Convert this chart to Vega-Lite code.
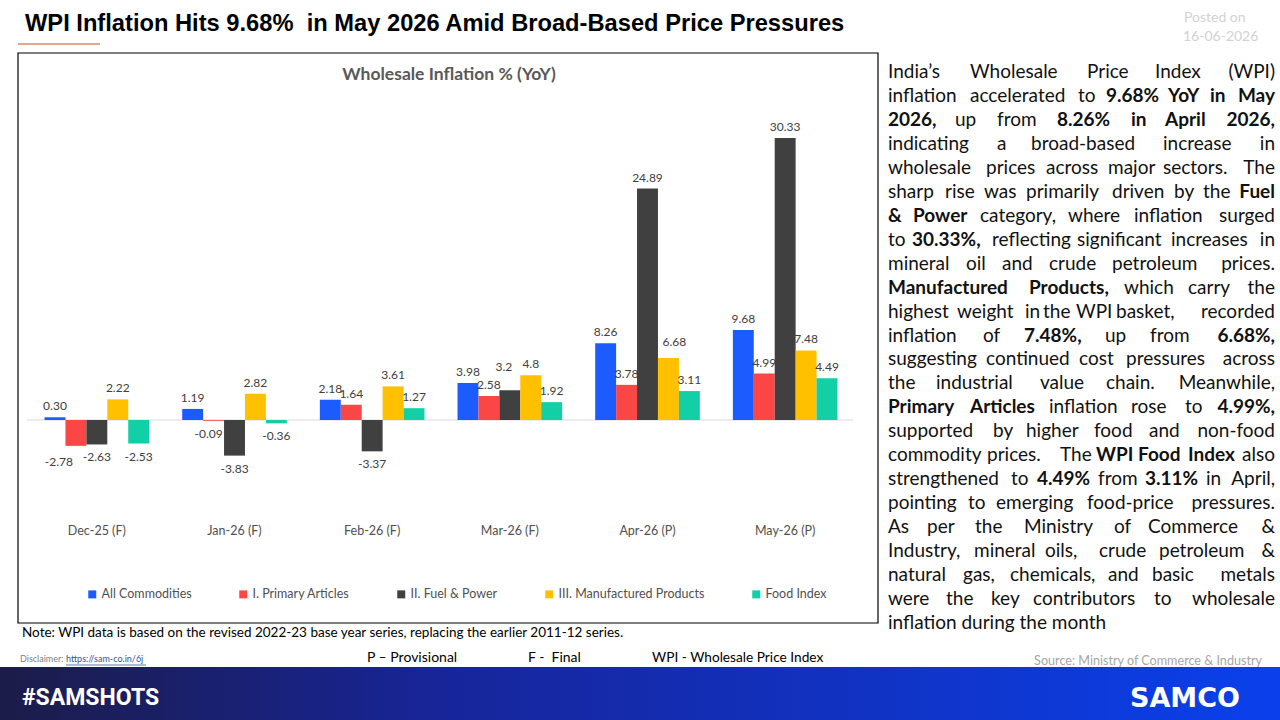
{
  "$schema": "https://vega.github.io/schema/vega-lite/v6.json",
  "width": 1280,
  "height": 720,
  "autosize": {"type": "none"},
  "padding": 0,
  "background": "white",
  "config": {"view": {"stroke": null}, "font": "Lato"},
  "datasets": {
    "wpi": [
      {"month": "Dec-25 (F)", "series": "All Commodities", "value": 0.30, "label": "0.30"},
      {"month": "Dec-25 (F)", "series": "I. Primary Articles", "value": -2.78, "label": "-2.78"},
      {"month": "Dec-25 (F)", "series": "II. Fuel & Power", "value": -2.63, "label": "-2.63"},
      {"month": "Dec-25 (F)", "series": "III. Manufactured Products", "value": 2.22, "label": "2.22"},
      {"month": "Dec-25 (F)", "series": "Food Index", "value": -2.53, "label": "-2.53"},
      {"month": "Jan-26 (F)", "series": "All Commodities", "value": 1.19, "label": "1.19"},
      {"month": "Jan-26 (F)", "series": "I. Primary Articles", "value": -0.09, "label": "-0.09"},
      {"month": "Jan-26 (F)", "series": "II. Fuel & Power", "value": -3.83, "label": "-3.83"},
      {"month": "Jan-26 (F)", "series": "III. Manufactured Products", "value": 2.82, "label": "2.82"},
      {"month": "Jan-26 (F)", "series": "Food Index", "value": -0.36, "label": "-0.36"},
      {"month": "Feb-26 (F)", "series": "All Commodities", "value": 2.18, "label": "2.18"},
      {"month": "Feb-26 (F)", "series": "I. Primary Articles", "value": 1.64, "label": "1.64"},
      {"month": "Feb-26 (F)", "series": "II. Fuel & Power", "value": -3.37, "label": "-3.37"},
      {"month": "Feb-26 (F)", "series": "III. Manufactured Products", "value": 3.61, "label": "3.61"},
      {"month": "Feb-26 (F)", "series": "Food Index", "value": 1.27, "label": "1.27"},
      {"month": "Mar-26 (F)", "series": "All Commodities", "value": 3.98, "label": "3.98"},
      {"month": "Mar-26 (F)", "series": "I. Primary Articles", "value": 2.58, "label": "2.58"},
      {"month": "Mar-26 (F)", "series": "II. Fuel & Power", "value": 3.2, "label": "3.2"},
      {"month": "Mar-26 (F)", "series": "III. Manufactured Products", "value": 4.8, "label": "4.8"},
      {"month": "Mar-26 (F)", "series": "Food Index", "value": 1.92, "label": "1.92"},
      {"month": "Apr-26 (P)", "series": "All Commodities", "value": 8.26, "label": "8.26"},
      {"month": "Apr-26 (P)", "series": "I. Primary Articles", "value": 3.78, "label": "3.78"},
      {"month": "Apr-26 (P)", "series": "II. Fuel & Power", "value": 24.89, "label": "24.89"},
      {"month": "Apr-26 (P)", "series": "III. Manufactured Products", "value": 6.68, "label": "6.68"},
      {"month": "Apr-26 (P)", "series": "Food Index", "value": 3.11, "label": "3.11"},
      {"month": "May-26 (P)", "series": "All Commodities", "value": 9.68, "label": "9.68"},
      {"month": "May-26 (P)", "series": "I. Primary Articles", "value": 4.99, "label": "4.99"},
      {"month": "May-26 (P)", "series": "II. Fuel & Power", "value": 30.33, "label": "30.33"},
      {"month": "May-26 (P)", "series": "III. Manufactured Products", "value": 7.48, "label": "7.48"},
      {"month": "May-26 (P)", "series": "Food Index", "value": 4.49, "label": "4.49"}
    ],
    "plainWords": [
      {"line": 1, "at": 0, "word": "India’s"}, {"line": 1, "at": 82, "word": "Wholesale"}, {"line": 1, "at": 199, "word": "Price"}, {"line": 1, "at": 267, "word": "Index"},
      {"line": 2, "at": 0, "word": "inflation"}, {"line": 2, "at": 82, "word": "accelerated"}, {"line": 2, "at": 190, "word": "to"},
      {"line": 3, "at": 67, "word": "up"}, {"line": 3, "at": 109, "word": "from"},
      {"line": 4, "at": 0, "word": "indicating"}, {"line": 4, "at": 109, "word": "a"}, {"line": 4, "at": 143, "word": "broad-based"}, {"line": 4, "at": 275, "word": "increase"},
      {"line": 5, "at": 0, "word": "wholesale"}, {"line": 5, "at": 98, "word": "prices"}, {"line": 5, "at": 158, "word": "across"}, {"line": 5, "at": 220, "word": "major"}, {"line": 5, "at": 275, "word": "sectors."},
      {"line": 6, "at": 0, "word": "sharp"}, {"line": 6, "at": 57, "word": "rise"}, {"line": 6, "at": 96, "word": "was"}, {"line": 6, "at": 138, "word": "primarily"}, {"line": 6, "at": 224, "word": "driven"}, {"line": 6, "at": 286, "word": "by"}, {"line": 6, "at": 315, "word": "the"},
      {"line": 7, "at": 92, "word": "category,"}, {"line": 7, "at": 180, "word": "where"}, {"line": 7, "at": 246, "word": "inflation"},
      {"line": 8, "at": 0, "word": "to"}, {"line": 8, "at": 104, "word": "reflecting"}, {"line": 8, "at": 189, "word": "significant"}, {"line": 8, "at": 283, "word": "increases"},
      {"line": 9, "at": 0, "word": "mineral"}, {"line": 9, "at": 78, "word": "oil"}, {"line": 9, "at": 114, "word": "and"}, {"line": 9, "at": 161, "word": "crude"}, {"line": 9, "at": 224, "word": "petroleum"},
      {"line": 10, "at": 236, "word": "which"}, {"line": 10, "at": 300, "word": "carry"},
      {"line": 11, "at": 0, "word": "highest"}, {"line": 11, "at": 69, "word": "weight"}, {"line": 11, "at": 137, "word": "in"}, {"line": 11, "at": 155, "word": "the"}, {"line": 11, "at": 188, "word": "WPI"}, {"line": 11, "at": 228, "word": "basket,"},
      {"line": 12, "at": 0, "word": "inflation"}, {"line": 12, "at": 95, "word": "of"}, {"line": 12, "at": 217, "word": "up"}, {"line": 12, "at": 262, "word": "from"},
      {"line": 13, "at": 0, "word": "suggesting"}, {"line": 13, "at": 98, "word": "continued"}, {"line": 13, "at": 191, "word": "cost"}, {"line": 13, "at": 238, "word": "pressures"},
      {"line": 14, "at": 0, "word": "the"}, {"line": 14, "at": 48, "word": "industrial"}, {"line": 14, "at": 152, "word": "value"}, {"line": 14, "at": 218, "word": "chain."},
      {"line": 15, "at": 161, "word": "inflation"}, {"line": 15, "at": 243, "word": "rose"}, {"line": 15, "at": 297, "word": "to"},
      {"line": 16, "at": 0, "word": "supported"}, {"line": 16, "at": 105, "word": "by"}, {"line": 16, "at": 138, "word": "higher"}, {"line": 16, "at": 206, "word": "food"}, {"line": 16, "at": 261, "word": "and"},
      {"line": 17, "at": 0, "word": "commodity"}, {"line": 17, "at": 99, "word": "prices."}, {"line": 17, "at": 172, "word": "The"},
      {"line": 18, "at": 0, "word": "strengthened"}, {"line": 18, "at": 123, "word": "to"}, {"line": 18, "at": 210, "word": "from"}, {"line": 18, "at": 318, "word": "in"},
      {"line": 19, "at": 0, "word": "pointing"}, {"line": 19, "at": 80, "word": "to"}, {"line": 19, "at": 108, "word": "emerging"}, {"line": 19, "at": 199, "word": "food-price"},
      {"line": 20, "at": 0, "word": "As"}, {"line": 20, "at": 39, "word": "per"}, {"line": 20, "at": 87, "word": "the"}, {"line": 20, "at": 136, "word": "Ministry"}, {"line": 20, "at": 226, "word": "of"}, {"line": 20, "at": 260, "word": "Commerce"},
      {"line": 21, "at": 0, "word": "Industry,"}, {"line": 21, "at": 86, "word": "mineral"}, {"line": 21, "at": 157, "word": "oils,"}, {"line": 21, "at": 211, "word": "crude"}, {"line": 21, "at": 271, "word": "petroleum"},
      {"line": 22, "at": 0, "word": "natural"}, {"line": 22, "at": 75, "word": "gas,"}, {"line": 22, "at": 122, "word": "chemicals,"}, {"line": 22, "at": 220, "word": "and"}, {"line": 22, "at": 264, "word": "basic"},
      {"line": 23, "at": 0, "word": "were"}, {"line": 23, "at": 58, "word": "the"}, {"line": 23, "at": 103, "word": "key"}, {"line": 23, "at": 145, "word": "contributors"}, {"line": 23, "at": 266, "word": "to"},
      {"line": 24, "at": 0, "word": "inflation during the month"}
    ],
    "boldWords": [
      {"line": 2, "at": 218, "word": "9.68%"}, {"line": 2, "at": 280, "word": "YoY"}, {"line": 2, "at": 322, "word": "in"},
      {"line": 3, "at": 0, "word": "2026,"}, {"line": 3, "at": 169, "word": "8.26%"}, {"line": 3, "at": 243, "word": "in"}, {"line": 3, "at": 277, "word": "April"},
      {"line": 7, "at": 0, "word": "&"}, {"line": 7, "at": 25, "word": "Power"},
      {"line": 8, "at": 24, "word": "30.33%,"},
      {"line": 10, "at": 0, "word": "Manufactured"}, {"line": 10, "at": 141, "word": "Products,"},
      {"line": 12, "at": 136, "word": "7.48%,"},
      {"line": 15, "at": 0, "word": "Primary"}, {"line": 15, "at": 82, "word": "Articles"},
      {"line": 17, "at": 208, "word": "WPI"}, {"line": 17, "at": 250, "word": "Food"}, {"line": 17, "at": 300, "word": "Index"},
      {"line": 18, "at": 149, "word": "4.49%"}, {"line": 18, "at": 257, "word": "3.11%"}
    ],
    "plainEnds": [
      {"line": 1, "word": "(WPI)"}, {"line": 4, "word": "in"}, {"line": 5, "word": "The"}, {"line": 7, "word": "surged"},
      {"line": 8, "word": "in"}, {"line": 9, "word": "prices."}, {"line": 10, "word": "the"}, {"line": 11, "word": "recorded"},
      {"line": 13, "word": "across"}, {"line": 14, "word": "Meanwhile,"}, {"line": 16, "word": "non-food"}, {"line": 17, "word": "also"},
      {"line": 18, "word": "April,"}, {"line": 19, "word": "pressures."}, {"line": 20, "word": "&"}, {"line": 21, "word": "&"},
      {"line": 22, "word": "metals"}, {"line": 23, "word": "wholesale"}
    ],
    "boldEnds": [
      {"line": 2, "word": "May"}, {"line": 3, "word": "2026,"}, {"line": 6, "word": "Fuel"}, {"line": 12, "word": "6.68%,"}, {"line": 15, "word": "4.99%,"}
    ]
  },
  "layer": [
    {
      "data": {"values": [{}]},
      "mark": {"type": "text", "x": 25, "y": 31, "align": "left", "baseline": "alphabetic", "text": "WPI Inflation Hits 9.68%\u00a0 in May 2026 Amid Broad-Based Price Pressures", "font": "Liberation Sans", "fontWeight": "bold", "fontSize": 23.7, "color": "#000000"},
      "encoding": {}
    },
    {
      "data": {"values": [{}]},
      "mark": {"type": "rule", "color": "#d98a66", "strokeWidth": 1.5},
      "encoding": {"x": {"value": 18}, "x2": {"value": 100}, "y": {"value": 44}}
    },
    {
      "data": {"values": [{}]},
      "mark": {"type": "text", "x": 1184, "y": 18, "align": "left", "baseline": "middle", "text": "Posted on", "font": "Lato", "fontSize": 14, "color": "#d2d2d2"},
      "encoding": {}
    },
    {
      "data": {"values": [{}]},
      "mark": {"type": "text", "x": 1183, "y": 37, "align": "left", "baseline": "middle", "text": "16-06-2026", "font": "Lato", "fontSize": 14, "color": "#d2d2d2"},
      "encoding": {}
    },
    {
      "data": {"values": [{}]},
      "mark": {"type": "rect", "fill": "white", "stroke": "#000000", "strokeWidth": 1.2},
      "encoding": {"x": {"value": 18}, "x2": {"value": 878}, "y": {"value": 53}, "y2": {"value": 623}}
    },
    {
      "data": {"values": [{}]},
      "mark": {"type": "text", "x": 449, "y": 75, "align": "center", "baseline": "middle", "text": "Wholesale Inflation % (YoY)", "font": "Lato", "fontWeight": "bold", "fontSize": 17.5, "color": "#595959"},
      "encoding": {}
    },
    {
      "data": {"values": [{}]},
      "mark": {"type": "text", "x": 22, "y": 633, "align": "left", "baseline": "middle", "text": "Note: WPI data is based on the revised 2022-23 base year series, replacing the earlier 2011-12 series.", "font": "Lato", "fontSize": 13.5, "color": "#000000"},
      "encoding": {}
    },
    {
      "data": {"values": [{}]},
      "mark": {"type": "text", "x": 20, "y": 659, "align": "left", "baseline": "middle", "text": "Disclaimer:", "font": "Lato", "fontSize": 9, "color": "#7f7f7f"},
      "encoding": {}
    },
    {
      "data": {"values": [{}]},
      "mark": {"type": "text", "x": 66, "y": 659, "align": "left", "baseline": "middle", "text": "https://sam-co.in/6j", "font": "Lato", "fontSize": 9, "color": "#2f5597"},
      "encoding": {}
    },
    {
      "data": {"values": [{}]},
      "mark": {"type": "rule", "color": "#2f5597", "strokeWidth": 0.8},
      "encoding": {"x": {"value": 66}, "x2": {"value": 146}, "y": {"value": 665}}
    },
    {
      "data": {"values": [{}]},
      "mark": {"type": "text", "x": 367, "y": 658, "align": "left", "baseline": "middle", "text": "P – Provisional", "font": "Lato", "fontSize": 14, "color": "#000000"},
      "encoding": {}
    },
    {
      "data": {"values": [{}]},
      "mark": {"type": "text", "x": 528, "y": 658, "align": "left", "baseline": "middle", "text": "F -\u00a0 Final", "font": "Lato", "fontSize": 14, "color": "#000000"},
      "encoding": {}
    },
    {
      "data": {"values": [{}]},
      "mark": {"type": "text", "x": 652, "y": 658, "align": "left", "baseline": "middle", "text": "WPI - Wholesale Price Index", "font": "Lato", "fontSize": 13.7, "color": "#000000"},
      "encoding": {}
    },
    {
      "data": {"values": [{}]},
      "mark": {"type": "text", "x": 1262, "y": 661, "align": "right", "baseline": "middle", "text": "Source: Ministry of Commerce & Industry", "font": "Lato", "fontSize": 12.6, "color": "#a6a6a6"},
      "encoding": {}
    },
    {
      "data": {"values": [{}]},
      "mark": {
        "type": "rect",
        "fill": {"gradient": "linear", "x1": 0, "y1": 0, "x2": 1, "y2": 0,
          "stops": [{"offset": 0, "color": "#1c1c48"}, {"offset": 0.35, "color": "#17259a"}, {"offset": 1, "color": "#0a40ec"}]}
      },
      "encoding": {"x": {"value": 0}, "x2": {"value": 1280}, "y": {"value": 667}, "y2": {"value": 720}}
    },
    {
      "data": {"values": [{}]},
      "mark": {"type": "text", "x": 22, "y": 705, "align": "left", "baseline": "alphabetic", "text": "#SAMSHOTS", "font": "Roboto", "fontWeight": "bold", "fontSize": 23, "color": "#ffffff"},
      "encoding": {}
    },
    {
      "data": {"values": [{}]},
      "mark": {"type": "text", "x": 1240, "y": 707, "align": "right", "baseline": "alphabetic", "text": "SAMCO", "font": "DejaVu Sans", "fontWeight": "bold", "fontSize": 27, "color": "#ffffff"},
      "encoding": {}
    },
    {
      "data": {"name": "wpi"},
      "layer": [
        {
          "data": {"values": [{}]},
          "mark": {"type": "rule", "color": "#d9d9d9", "strokeWidth": 1},
          "encoding": {
            "y": {"datum": 0, "type": "quantitative", "axis": null},
            "x": {"value": 27},
            "x2": {"value": 853}
          }
        },
        {
          "mark": {"type": "bar"},
          "encoding": {
            "x": {"field": "month", "type": "nominal", "sort": ["Dec-25 (F)", "Jan-26 (F)", "Feb-26 (F)", "Mar-26 (F)", "Apr-26 (P)", "May-26 (P)"], "scale": {"range": [28, 854], "paddingInner": 0.24, "paddingOuter": 0.12}, "axis": null},
            "xOffset": {"field": "series", "type": "nominal", "sort": ["All Commodities", "I. Primary Articles", "II. Fuel & Power", "III. Manufactured Products", "Food Index"], "scale": {"paddingInner": 0, "paddingOuter": 0}},
            "y": {"field": "value", "type": "quantitative", "scale": {"domain": [-10, 35], "range": [513, 94.5], "nice": false, "zero": false}, "axis": null},
            "color": {
              "field": "series", "type": "nominal",
              "scale": {"domain": ["All Commodities", "I. Primary Articles", "II. Fuel & Power", "III. Manufactured Products", "Food Index"], "range": ["#1c5cff", "#fb4646", "#404040", "#ffc000", "#12cfa6"]},
              "legend": {"orient": "none", "legendX": 86, "legendY": 588, "direction": "horizontal", "columns": 5, "columnPadding": 45, "title": null, "symbolType": "square", "symbolSize": 64, "symbolStrokeWidth": 0, "labelFont": "Lato", "labelFontSize": 12.5, "labelColor": "#505050", "labelOffset": 3}
            }
          }
        },
        {
          "transform": [{"filter": "datum.value >= 0 && datum.label != '3.2' && datum.label != '6.68'"}],
          "mark": {"type": "text", "baseline": "alphabetic", "dy": -7, "font": "Lato", "fontSize": 12, "color": "#404040"},
          "encoding": {
            "x": {"field": "month", "type": "nominal", "sort": ["Dec-25 (F)", "Jan-26 (F)", "Feb-26 (F)", "Mar-26 (F)", "Apr-26 (P)", "May-26 (P)"], "axis": null},
            "xOffset": {"field": "series", "type": "nominal", "sort": ["All Commodities", "I. Primary Articles", "II. Fuel & Power", "III. Manufactured Products", "Food Index"]},
            "y": {"field": "value", "type": "quantitative", "axis": null},
            "text": {"field": "label"}
          }
        },
        {
          "transform": [{"filter": "datum.label == '3.2'"}],
          "mark": {"type": "text", "baseline": "alphabetic", "dx": -6, "dy": -19, "font": "Lato", "fontSize": 12, "color": "#404040"},
          "encoding": {
            "x": {"field": "month", "type": "nominal", "sort": ["Dec-25 (F)", "Jan-26 (F)", "Feb-26 (F)", "Mar-26 (F)", "Apr-26 (P)", "May-26 (P)"], "axis": null},
            "xOffset": {"field": "series", "type": "nominal", "sort": ["All Commodities", "I. Primary Articles", "II. Fuel & Power", "III. Manufactured Products", "Food Index"]},
            "y": {"field": "value", "type": "quantitative", "axis": null},
            "text": {"field": "label"}
          }
        },
        {
          "transform": [{"filter": "datum.label == '6.68'"}],
          "mark": {"type": "text", "baseline": "alphabetic", "dx": 6, "dy": -12, "font": "Lato", "fontSize": 12, "color": "#404040"},
          "encoding": {
            "x": {"field": "month", "type": "nominal", "sort": ["Dec-25 (F)", "Jan-26 (F)", "Feb-26 (F)", "Mar-26 (F)", "Apr-26 (P)", "May-26 (P)"], "axis": null},
            "xOffset": {"field": "series", "type": "nominal", "sort": ["All Commodities", "I. Primary Articles", "II. Fuel & Power", "III. Manufactured Products", "Food Index"]},
            "y": {"field": "value", "type": "quantitative", "axis": null},
            "text": {"field": "label"}
          }
        },
        {
          "transform": [{"filter": "datum.value < 0 && datum.label != '-2.78' && datum.label != '-0.09'"}],
          "mark": {"type": "text", "baseline": "top", "dy": 8, "font": "Lato", "fontSize": 12, "color": "#404040"},
          "encoding": {
            "x": {"field": "month", "type": "nominal", "sort": ["Dec-25 (F)", "Jan-26 (F)", "Feb-26 (F)", "Mar-26 (F)", "Apr-26 (P)", "May-26 (P)"], "axis": null},
            "xOffset": {"field": "series", "type": "nominal", "sort": ["All Commodities", "I. Primary Articles", "II. Fuel & Power", "III. Manufactured Products", "Food Index"]},
            "y": {"field": "value", "type": "quantitative", "axis": null},
            "text": {"field": "label"}
          }
        },
        {
          "transform": [{"filter": "datum.label == '-2.78'"}],
          "mark": {"type": "text", "baseline": "top", "dx": -17, "dy": 11, "font": "Lato", "fontSize": 12, "color": "#404040"},
          "encoding": {
            "x": {"field": "month", "type": "nominal", "sort": ["Dec-25 (F)", "Jan-26 (F)", "Feb-26 (F)", "Mar-26 (F)", "Apr-26 (P)", "May-26 (P)"], "axis": null},
            "xOffset": {"field": "series", "type": "nominal", "sort": ["All Commodities", "I. Primary Articles", "II. Fuel & Power", "III. Manufactured Products", "Food Index"]},
            "y": {"field": "value", "type": "quantitative", "axis": null},
            "text": {"field": "label"}
          }
        },
        {
          "transform": [{"filter": "datum.label == '-0.09'"}],
          "mark": {"type": "text", "baseline": "top", "dx": -5, "dy": 8, "font": "Lato", "fontSize": 12, "color": "#404040"},
          "encoding": {
            "x": {"field": "month", "type": "nominal", "sort": ["Dec-25 (F)", "Jan-26 (F)", "Feb-26 (F)", "Mar-26 (F)", "Apr-26 (P)", "May-26 (P)"], "axis": null},
            "xOffset": {"field": "series", "type": "nominal", "sort": ["All Commodities", "I. Primary Articles", "II. Fuel & Power", "III. Manufactured Products", "Food Index"]},
            "y": {"field": "value", "type": "quantitative", "axis": null},
            "text": {"field": "label"}
          }
        },
        {
          "transform": [{"filter": "datum.series == 'All Commodities'"}],
          "mark": {"type": "text", "baseline": "middle", "font": "Lato", "fontSize": 12.5, "color": "#505050"},
          "encoding": {
            "x": {"field": "month", "type": "nominal", "sort": ["Dec-25 (F)", "Jan-26 (F)", "Feb-26 (F)", "Mar-26 (F)", "Apr-26 (P)", "May-26 (P)"], "axis": null},
            "y": {"value": 531},
            "text": {"field": "month"}
          }
        }
      ]
    },
    {
      "layer": [
        {
          "data": {"name": "plainWords"},
          "mark": {"type": "text", "align": "left", "baseline": "middle", "font": "Lato", "fontSize": 19, "color": "#111111"},
          "encoding": {
            "x": {"field": "at", "type": "quantitative", "scale": {"domain": [0, 387], "range": [888, 1275], "nice": false, "zero": false}, "axis": null},
            "y": {"field": "line", "type": "quantitative", "scale": {"domain": [1, 24], "range": [72, 623], "nice": false, "zero": false}, "axis": null},
            "text": {"field": "word"}
          }
        },
        {
          "data": {"name": "boldWords"},
          "mark": {"type": "text", "align": "left", "baseline": "middle", "font": "Lato", "fontWeight": "bold", "fontSize": 19, "color": "#111111"},
          "encoding": {
            "x": {"field": "at", "type": "quantitative", "axis": null},
            "y": {"field": "line", "type": "quantitative", "axis": null},
            "text": {"field": "word"}
          }
        },
        {
          "data": {"name": "plainEnds"},
          "mark": {"type": "text", "align": "right", "baseline": "middle", "font": "Lato", "fontSize": 19, "color": "#111111"},
          "encoding": {
            "x": {"datum": 387, "type": "quantitative", "axis": null},
            "y": {"field": "line", "type": "quantitative", "axis": null},
            "text": {"field": "word"}
          }
        },
        {
          "data": {"name": "boldEnds"},
          "mark": {"type": "text", "align": "right", "baseline": "middle", "font": "Lato", "fontWeight": "bold", "fontSize": 19, "color": "#111111"},
          "encoding": {
            "x": {"datum": 387, "type": "quantitative", "axis": null},
            "y": {"field": "line", "type": "quantitative", "axis": null},
            "text": {"field": "word"}
          }
        }
      ]
    }
  ],
  "resolve": {"scale": {"x": "independent", "y": "independent", "xOffset": "independent"}}
}
